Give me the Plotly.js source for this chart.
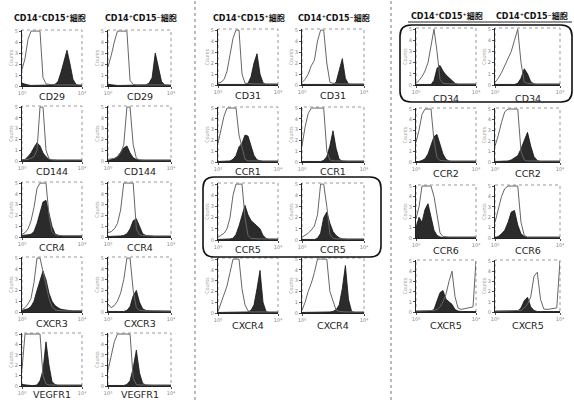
<!DOCTYPE html>
<html><head><meta charset="utf-8">
<script src="https://cdn.plot.ly/plotly-3.0.1.min.js"></script>
<style>html,body{margin:0;padding:0;background:#fff}#chart{width:574px;height:400px}</style>
</head><body><div id="chart"></div>
<script>
// fluorescence bins (log-scale position, % of axis)
const bins = [0,5,10,15,20,25,30,35,40,45,50,55,60,65,70,75,80,85,90,95,100];

// Counts (% of full scale); "iso" = open control histogram, "stain" = filled histogram
const CD29_pos_iso    = [30,50,85,100,100,100,100,15,4,3,2,2,2,2,2,2,2,2,2,2,2];
const CD29_pos_stain  = [5,3,2,1,1,1,1,1,1,1,2,3,8,25,45,65,40,12,3,1,1];
const CD29_neg_iso    = [35,55,80,100,100,100,100,10,3,2,2,2,2,2,2,2,2,2,2,2,2];
const CD29_neg_stain  = [3,2,1,1,1,1,1,1,1,1,1,1,2,5,15,60,35,8,2,1,1];

const CD144_pos_iso   = [2,2,3,5,8,20,100,100,20,4,2,2,2,2,2,2,2,2,2,2,2];
const CD144_pos_stain = [2,3,8,15,25,34,28,15,8,3,2,1,1,1,1,1,1,1,1,1,1];
const CD144_neg_iso   = [3,4,5,8,15,30,100,100,30,5,2,2,2,2,2,2,2,2,2,2,2];
const CD144_neg_stain = [1,2,4,8,15,24,28,15,6,3,2,1,1,1,1,1,1,1,1,1,1];

const CCR4_pos_iso    = [5,8,15,30,55,90,100,100,100,40,10,4,3,2,2,2,2,2,2,2,2];
const CCR4_pos_stain  = [3,3,4,5,10,25,45,65,68,45,20,6,3,2,2,2,2,2,2,2,2];
const CCR4_neg_iso    = [8,10,15,25,50,100,100,100,100,15,4,3,2,2,2,2,2,2,2,2,2];
const CCR4_neg_stain  = [1,1,1,1,2,3,6,15,30,34,20,6,3,2,1,1,1,1,1,1,1];

const CXCR3_pos_iso   = [5,8,15,25,55,100,100,75,50,25,10,4,3,2,2,2,2,2,2,2,2];
const CXCR3_pos_stain = [3,4,6,10,20,40,60,76,60,35,20,12,8,5,4,3,3,2,2,2,2];
const CXCR3_neg_iso   = [15,8,12,20,35,60,100,100,40,8,3,2,2,2,2,2,2,2,2,2,2];
const CXCR3_neg_stain = [1,1,1,1,1,1,3,10,30,40,18,6,3,2,2,2,2,1,1,1,1];

const VEGFR1_pos_iso   = [32,100,100,100,100,100,100,20,4,2,2,2,2,2,2,2,2,2,2,2,2];
const VEGFR1_pos_stain = [3,2,1,1,1,2,10,30,85,40,8,3,1,1,1,1,1,1,1,1,1];
const VEGFR1_neg_iso   = [30,60,85,100,100,100,100,100,15,3,2,2,2,2,2,2,2,2,2,2,2];
const VEGFR1_neg_stain = [1,1,1,1,1,1,3,10,35,69,25,5,2,1,1,1,1,1,1,1,1];

const CD31_pos_iso    = [3,5,10,25,55,85,100,100,20,3,3,2,2,2,2,2,2,2,2,2,2];
const CD31_pos_stain  = [1,1,1,1,1,1,1,1,1,1,3,15,40,57,20,4,1,1,1,1,1];
const CD31_neg_iso    = [5,10,20,35,45,80,100,100,40,5,3,2,2,2,2,2,2,2,2,2,2];
const CD31_neg_stain  = [1,1,1,1,1,1,1,1,1,1,1,5,25,48,12,2,1,1,1,1,1];

const CCR1_pos_iso    = [35,60,85,100,100,100,100,50,25,5,2,2,2,2,2,2,2,2,2,2,2];
const CCR1_pos_stain  = [1,1,1,1,2,5,12,28,35,50,48,30,12,4,2,1,1,1,1,1,1];
const CCR1_neg_iso    = [30,65,90,100,100,100,100,100,20,4,2,2,2,2,2,2,2,2,2,2,2];
const CCR1_neg_stain  = [1,1,1,1,1,1,1,3,10,30,58,25,5,2,1,1,1,1,1,1,1];

const CCR5_pos_iso    = [5,8,12,20,40,80,100,100,100,40,8,3,2,2,2,2,2,2,2,2,2];
const CCR5_pos_stain  = [1,1,1,1,2,3,10,25,45,62,45,35,30,25,20,8,3,1,1,1,1];
const CCR5_neg_iso    = [5,8,12,18,25,45,100,100,60,10,3,2,2,2,2,2,2,2,2,2,2];
const CCR5_neg_stain  = [1,1,1,1,1,3,12,40,50,30,15,8,4,2,1,1,1,1,1,1,1];

const CXCR4_pos_iso   = [3,20,35,50,75,100,100,100,45,15,4,2,2,2,2,2,2,2,2,2,2];
const CXCR4_pos_stain = [1,1,1,1,1,1,1,1,1,1,2,5,15,45,79,20,3,1,1,1,1];
const CXCR4_neg_iso   = [5,20,40,55,75,100,100,100,100,40,20,5,3,2,2,2,2,2,2,2,2];
const CXCR4_neg_stain = [1,1,1,1,1,1,1,1,1,2,3,6,15,45,88,25,3,1,1,1,1];

const CD34_pos_iso    = [3,8,15,25,40,70,100,60,10,3,2,2,2,2,2,2,2,2,2,2,2];
const CD34_pos_stain  = [1,1,1,1,1,1,8,30,35,25,18,12,8,3,1,1,1,1,1,1,1];
const CD34_neg_iso    = [5,12,22,35,45,60,80,100,40,5,3,2,2,2,2,2,2,2,2,2,2];
const CD34_neg_stain  = [1,1,1,1,1,1,1,3,12,29,20,6,2,1,1,1,1,1,1,1,1];

const CCR2_pos_iso    = [37,60,90,100,100,100,40,8,3,2,2,2,2,2,2,2,2,2,2,2,2];
const CCR2_pos_stain  = [1,1,3,6,15,30,48,52,35,15,5,2,1,1,1,1,1,1,1,1,1];
const CCR2_neg_iso    = [30,50,75,95,100,100,100,100,20,4,2,2,2,2,2,2,2,2,2,2,2];
const CCR2_neg_stain  = [1,1,1,1,2,4,8,12,25,40,56,30,10,3,1,1,1,1,1,1,1];

const CCR6_pos_iso    = [37,60,100,100,100,100,80,40,10,3,2,2,2,2,2,2,2,2,2,2,2];
const CCR6_pos_stain  = [20,40,30,55,66,40,15,5,2,1,1,1,1,1,1,1,1,1,1,1,1];
const CCR6_neg_iso    = [30,55,80,95,100,100,100,100,30,5,2,2,2,2,2,2,2,2,2,2,2];
const CCR6_neg_stain  = [1,3,8,15,30,50,53,25,8,3,1,1,1,1,1,1,1,1,1,1,1];

const CXCR5_pos_iso   = [2,2,2,2,2,3,3,5,10,20,35,60,80,30,8,5,6,8,8,10,100];
const CXCR5_pos_stain = [1,1,1,1,1,2,5,20,38,42,25,20,15,5,2,1,1,1,1,1,1];
const CXCR5_neg_iso   = [2,2,2,2,2,2,2,2,3,8,15,30,70,78,25,6,5,6,7,8,100];
const CXCR5_neg_stain = [1,1,1,1,1,1,1,2,8,22,29,10,3,1,1,1,1,1,1,1,1];

const groupTitlePos = 'CD14⁺CD15⁺細胞';
const groupTitleNeg = 'CD14⁺CD15⁻細胞';

// ---- layout geometry (pixels) ----
const W = 574, H = 400;
const colPx = {L1:[22,82], L2:[108,171], M1:[218,278], M2:[302,364], R1:[416,476], R2:[495,560]};
const rowPx = {
  L:[[30,86],[106,161],[182,237],[257,312],[333,386]],
  M:[[29,85],[107,162],[183,240],[258,313]],
  R:[[28,85],[108,162],[185,238],[260,312]]
};
const labelGap = {L:[10,11,10,11,8], M:[10,9,9,12], R:[13,11,12,13]};

const panels = [
  ['L','L1',0,'CD29',CD29_pos_iso,CD29_pos_stain], ['L','L2',0,'CD29',CD29_neg_iso,CD29_neg_stain],
  ['L','L1',1,'CD144',CD144_pos_iso,CD144_pos_stain], ['L','L2',1,'CD144',CD144_neg_iso,CD144_neg_stain],
  ['L','L1',2,'CCR4',CCR4_pos_iso,CCR4_pos_stain], ['L','L2',2,'CCR4',CCR4_neg_iso,CCR4_neg_stain],
  ['L','L1',3,'CXCR3',CXCR3_pos_iso,CXCR3_pos_stain], ['L','L2',3,'CXCR3',CXCR3_neg_iso,CXCR3_neg_stain],
  ['L','L1',4,'VEGFR1',VEGFR1_pos_iso,VEGFR1_pos_stain], ['L','L2',4,'VEGFR1',VEGFR1_neg_iso,VEGFR1_neg_stain],
  ['M','M1',0,'CD31',CD31_pos_iso,CD31_pos_stain], ['M','M2',0,'CD31',CD31_neg_iso,CD31_neg_stain],
  ['M','M1',1,'CCR1',CCR1_pos_iso,CCR1_pos_stain], ['M','M2',1,'CCR1',CCR1_neg_iso,CCR1_neg_stain],
  ['M','M1',2,'CCR5',CCR5_pos_iso,CCR5_pos_stain], ['M','M2',2,'CCR5',CCR5_neg_iso,CCR5_neg_stain],
  ['M','M1',3,'CXCR4',CXCR4_pos_iso,CXCR4_pos_stain], ['M','M2',3,'CXCR4',CXCR4_neg_iso,CXCR4_neg_stain],
  ['R','R1',0,'CD34',CD34_pos_iso,CD34_pos_stain], ['R','R2',0,'CD34',CD34_neg_iso,CD34_neg_stain],
  ['R','R1',1,'CCR2',CCR2_pos_iso,CCR2_pos_stain], ['R','R2',1,'CCR2',CCR2_neg_iso,CCR2_neg_stain],
  ['R','R1',2,'CCR6',CCR6_pos_iso,CCR6_pos_stain], ['R','R2',2,'CCR6',CCR6_neg_iso,CCR6_neg_stain],
  ['R','R1',3,'CXCR5',CXCR5_pos_iso,CXCR5_pos_stain], ['R','R2',3,'CXCR5',CXCR5_neg_iso,CXCR5_neg_stain]
];

const px = x => x / W;
const py = y => 1 - y / H;

const data = [];
const layout = {
  width: W, height: H, margin: {l:0, r:0, t:0, b:0},
  paper_bgcolor: '#fff', plot_bgcolor: '#fff', showlegend: false,
  shapes: [], annotations: []
};

panels.forEach((p, i) => {
  const [grp, col, row, name, iso, stain] = p;
  const n = i === 0 ? '' : String(i + 1);
  const xa = 'x' + n, ya = 'y' + n;
  const [x0, x1] = colPx[col];
  const [y0, y1] = rowPx[grp][row];
  layout['xaxis' + n] = {
    domain: [px(x0), px(x1)], anchor: ya, range: [0, 100],
    showline: true, linecolor: '#222', linewidth: 1, mirror: false,
    ticks: 'outside', ticklen: 2, tickwidth: 1, tickcolor: '#555',
    tickvals: [0, 100], ticktext: ['10⁰', '10⁴'],
    tickfont: {size: 5, color: '#888', family: 'DejaVu Sans'},
    showgrid: false, zeroline: false, fixedrange: true
  };
  layout['yaxis' + n] = {
    domain: [py(y1), py(y0)], anchor: xa, range: [0, 102],
    showline: true, linecolor: '#222', linewidth: 1, mirror: false,
    ticks: 'outside', ticklen: 2, tickwidth: 1, tickcolor: '#555',
    tickvals: [0, 20, 40, 60, 80, 100], ticktext: ['0','1','2','3','4','5'],
    tickfont: {size: 5, color: '#888', family: 'DejaVu Sans'},
    title: {text: 'Counts', font: {size: 5, color: '#999'}, standoff: 1},
    showgrid: false, zeroline: false, fixedrange: true
  };
  layout.shapes.push({type: 'rect', xref: xa + ' domain', yref: ya + ' domain',
    x0: 0, x1: 1, y0: 0, y1: 1, layer: 'below',
    line: {color: '#999', width: 1, dash: 'dot'}});
  data.push({type: 'scatter', mode: 'lines', x: bins, y: stain, xaxis: xa, yaxis: ya,
    fill: 'tozeroy', fillcolor: '#2b2b2b', line: {color: '#111', width: 0.8},
    hoverinfo: 'skip'});
  data.push({type: 'scatter', mode: 'lines', x: bins, y: iso, xaxis: xa, yaxis: ya,
    line: {color: '#666', width: 1}, hoverinfo: 'skip'});
  layout.annotations.push({xref: 'paper', yref: 'paper', x: px((x0 + x1) / 2),
    y: py(y1 + labelGap[grp][row]), text: name, showarrow: false,
    xanchor: 'center', yanchor: 'middle',
    font: {family: 'DejaVu Sans', size: 9.5, color: '#222'}});
});

// group column titles
const titleSpecs = [
  [50, 18, groupTitlePos], [141, 18, groupTitleNeg],
  [249, 18, groupTitlePos], [334, 18, groupTitleNeg],
  [447, 16, groupTitlePos], [532, 16, groupTitleNeg]
];
titleSpecs.forEach(([x, y, t]) => {
  layout.annotations.push({xref: 'paper', yref: 'paper', x: px(x), y: py(y),
    text: '<b>' + t + '</b>', showarrow: false, xanchor: 'center', yanchor: 'middle',
    font: {family: 'DejaVu Sans, Noto Sans CJK JP', size: 8, color: '#111'}});
});

// separators
[195, 391].forEach(x => layout.shapes.push({type: 'line', xref: 'paper', yref: 'paper',
  x0: px(x), x1: px(x), y0: 0, y1: 1, line: {color: '#777', width: 1, dash: 'dot'}}));

// underline for right group titles
layout.shapes.push({type: 'line', xref: 'paper', yref: 'paper',
  x0: px(408), x1: px(572), y0: py(22), y1: py(22), line: {color: '#222', width: 1}});

// rounded highlight boxes
function roundRect(x0, y0, x1, y1, r) {
  const rx = r / W, ry = r / H;
  const L = px(x0), R = px(x1), T = py(y0), B = py(y1);
  return `M ${L + rx},${T} L ${R - rx},${T} Q ${R},${T} ${R},${T - ry} L ${R},${B + ry} Q ${R},${B} ${R - rx},${B} ` +
         `L ${L + rx},${B} Q ${L},${B} ${L},${B + ry} L ${L},${T - ry} Q ${L},${T} ${L + rx},${T} Z`;
}
[[400, 25, 572, 102], [203, 177, 381, 257]].forEach(([a, b, c, d]) =>
  layout.shapes.push({type: 'path', xref: 'paper', yref: 'paper', path: roundRect(a, b, c, d, 11),
    line: {color: '#111', width: 1.6}}));

Plotly.newPlot('chart', data, layout, {staticPlot: true, displayModeBar: false});
</script></body></html>
